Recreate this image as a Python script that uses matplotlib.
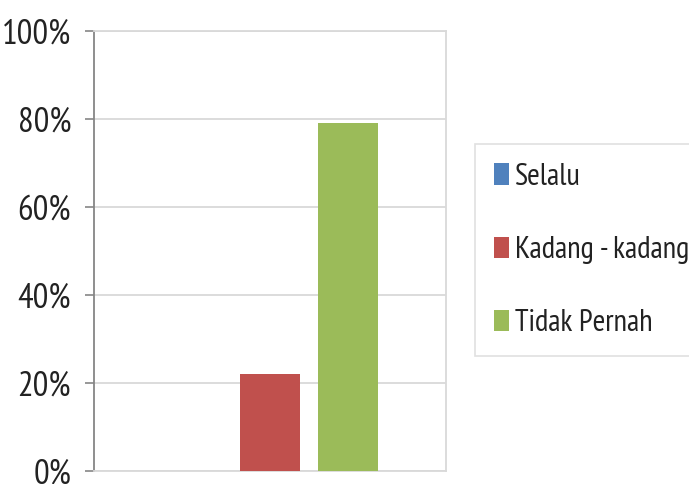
import matplotlib
matplotlib.use("Agg")
import matplotlib.pyplot as plt
import numpy as np
from matplotlib.ticker import FuncFormatter

plt.rcParams['font.family'] = ['PT Sans Narrow', 'DejaVu Sans']

# data
series = ['Selalu', 'Kadang - kadang', 'Tidak Pernah']
values = [0, 22, 79]
colors = ['#4F81BD', '#C0504D', '#9BBB59']

fig = plt.figure(figsize=(6.89, 4.84), dpi=100)
ax = fig.add_axes([0.1364, 0.0269, 0.5109, 0.9091])

width = 0.173
step = 0.2216
for i, (name, v, c) in enumerate(zip(series, values, colors)):
    ax.bar(0.5 + (i - 1) * step, v, width, color=c, label=name, zorder=3)

ax.set_xlim(0, 1)
ax.set_ylim(0, 100)
ax.set_yticks(np.arange(0, 101, 20))
ax.yaxis.set_major_formatter(FuncFormatter(lambda v, p: f'{v:.0f}%'))
ax.set_xticks([])
ax.grid(axis='y', color='#d9d9d9', linewidth=1.3, zorder=0)
for s in ['top', 'right', 'bottom']:
    ax.spines[s].set_color('#d9d9d9')
    ax.spines[s].set_linewidth(1.3)
ax.spines['left'].set_color('#868686')
ax.spines['left'].set_linewidth(1.3)
ax.tick_params(axis='y', length=6.5, width=1.2, color='#868686', pad=10,
               labelsize=25, labelcolor='#222222')

leg = ax.legend(loc='center left', bbox_to_anchor=(0.689, 0.4835), bbox_transform=fig.transFigure,
                fontsize=22, frameon=True, fancybox=False, edgecolor='#d9d9d9',
                handlelength=0.5, handleheight=0.7, handletextpad=0.2,
                labelspacing=1.48, borderpad=0.62, borderaxespad=0)
leg.get_frame().set_linewidth(1.2)
for t in leg.get_texts():
    t.set_color('#222222')

fig.savefig('out.png', dpi=100)
